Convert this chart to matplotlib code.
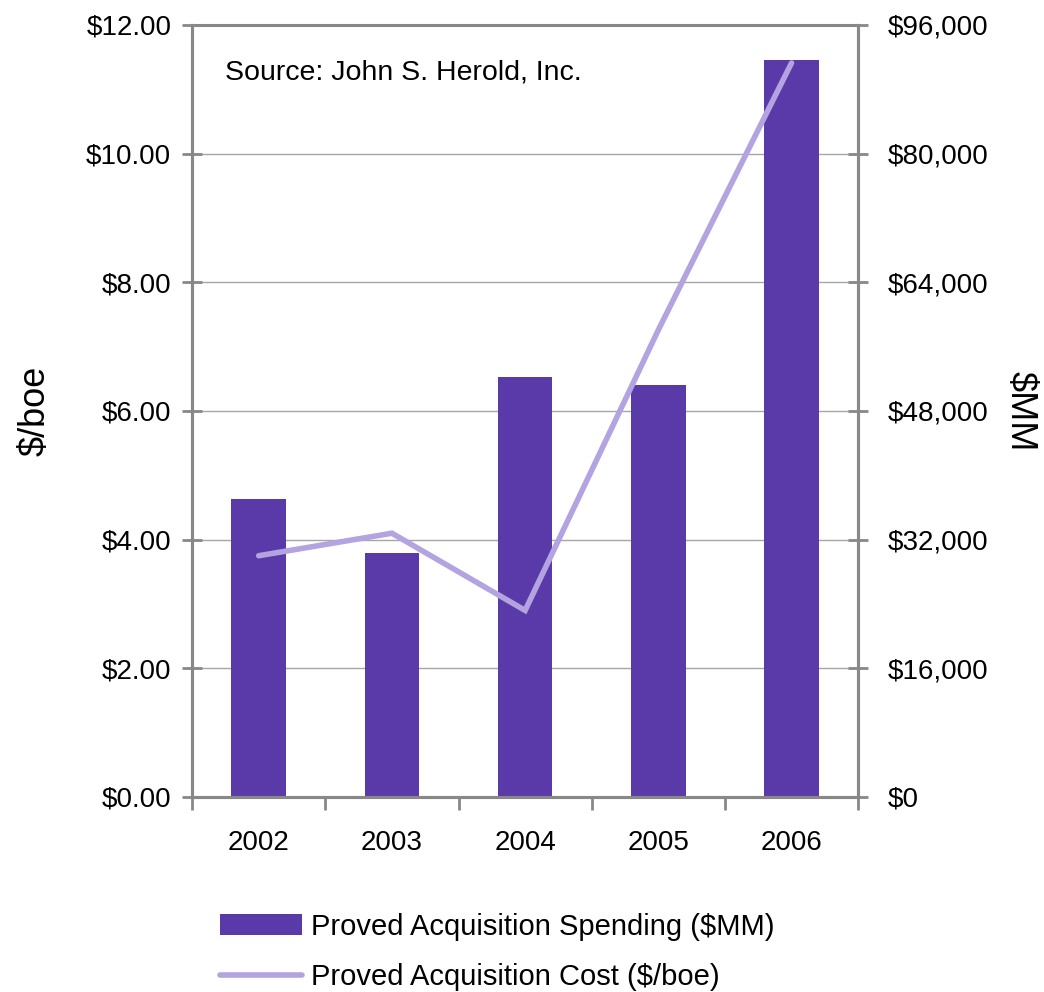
import numpy as np
import matplotlib
matplotlib.use("Agg")
import matplotlib.pyplot as plt
from matplotlib.ticker import FuncFormatter, FixedLocator
from matplotlib.patches import Patch
from matplotlib.lines import Line2D

plt.rcParams['font.family'] = ['Liberation Sans', 'DejaVu Sans']

years = ['2002', '2003', '2004', '2005', '2006']
spending_mm = [37000, 30300, 52200, 51200, 91600]   # $MM, right axis
cost_boe = [3.75, 4.10, 2.90, 7.26, 11.41]          # $/boe, left axis

bar_color = '#5a3aa8'
line_color = '#b3a3e0'
spine_color = '#888888'
grid_color = '#a6a6a6'
fs = 20

fig = plt.figure(figsize=(10.44, 9.92), dpi=100)
ax = fig.add_axes([0.184, 0.1966, 0.638, 0.7782])
ax2 = ax.twinx()

x = np.arange(len(years))

# bars live on the secondary axis, drawn underneath the cost line
ax.set_zorder(ax2.get_zorder() + 1)
ax.patch.set_visible(False)
ax2.bar(x, spending_mm, width=0.41, color=bar_color, zorder=2)
ax2.set_ylim(0, 96000)
ax2.set_yticks(np.arange(0, 96001, 16000))
ax2.yaxis.set_major_formatter(FuncFormatter(lambda v, p: '$' + format(int(v), ',')))
ax2.grid(axis='y', color=grid_color, linewidth=1.0, zorder=0)
ax2.set_axisbelow(True)

ax.plot(x, cost_boe, color=line_color, linewidth=4, solid_capstyle='round',
        solid_joinstyle='miter')
ax.set_ylim(0, 12)
ax.set_xlim(-0.5, len(years) - 0.5)
ax.set_yticks(np.arange(0, 12.01, 2))
ax.yaxis.set_major_formatter(FuncFormatter(lambda v, p: '$%.2f' % v))

ax.set_xticks(x)
ax.set_xticklabels(years)
ax.xaxis.set_minor_locator(FixedLocator(np.arange(-0.5, len(years), 1.0)))
ax.tick_params(axis='x', which='major', length=0, pad=24, labelsize=fs)
ax.tick_params(axis='x', which='minor', length=9, width=2, color=spine_color, direction='out')
ax.tick_params(axis='y', length=14, width=2, color=spine_color, direction='inout',
               labelsize=fs, pad=8)
ax2.tick_params(axis='y', length=14, width=2, color=spine_color, direction='inout',
                labelsize=fs, pad=14)

for a in (ax, ax2):
    for s in a.spines.values():
        s.set_color(spine_color)
        s.set_linewidth(2.2)
ax.spines['top'].set_linewidth(1.8)

ax.set_ylabel('$/boe', fontsize=26, labelpad=24)
ax2.set_ylabel('$MM', fontsize=26, rotation=270, labelpad=36)

ax.text(0.05, 0.938, 'Source: John S. Herold, Inc.', transform=ax.transAxes,
        fontsize=20.5, va='center', ha='left')

handles = [Patch(facecolor=bar_color, edgecolor='none'),
           Line2D([0], [0], color=line_color, linewidth=4, solid_capstyle='round')]
labels = ['Proved Acquisition Spending ($MM)', 'Proved Acquisition Cost ($/boe)']
fig.legend(handles, labels, loc='upper left', bbox_to_anchor=(0.211, 0.080), frameon=False,
           fontsize=21, handlelength=2.8, handleheight=0.7, handletextpad=0.3,
           labelspacing=0.76, borderaxespad=0, borderpad=0)

fig.savefig('out.png', dpi=100)
plt.close(fig)
